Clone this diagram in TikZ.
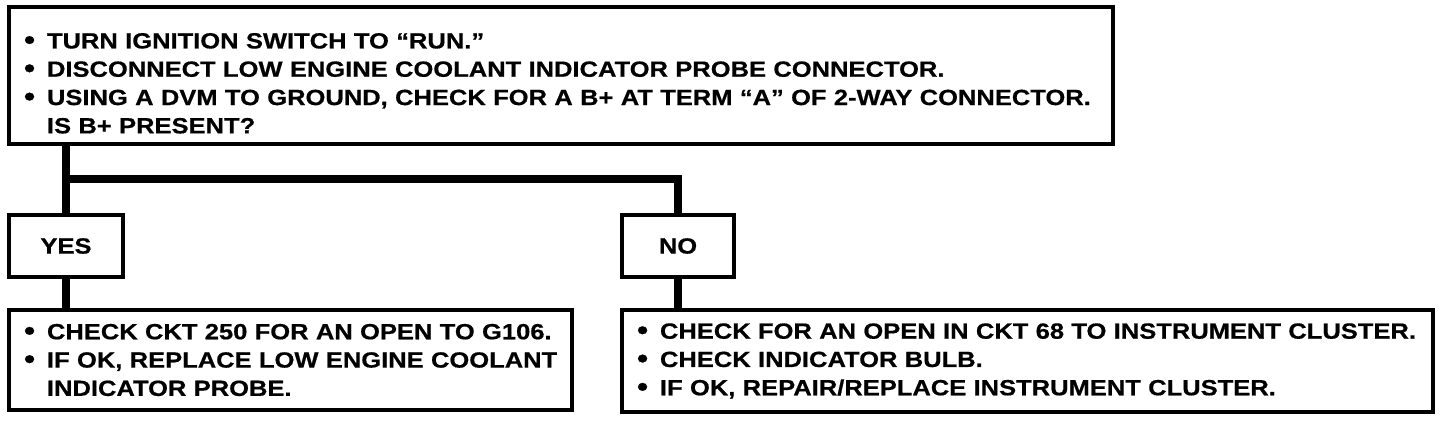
\documentclass[tikz,border=0pt]{standalone}
\usepackage{fontspec}
\setmainfont{Liberation Sans}[BoldFeatures={FakeStretch=1.16,FakeBold=0.6}]
\usetikzlibrary{positioning}
\newcommand{\bul}[1]{\mbox{\makebox[23pt][l]{\raisebox{-0.03em}{\scalebox{1.25}{\textbullet}}}#1}}
\newcommand{\ind}[1]{\mbox{\hspace*{23pt}#1}}

\begin{document}
\begin{tikzpicture}[x=1pt,y=-1pt,
  every node/.style={draw,line width=4.5pt,outer sep=0pt,anchor=north west,inner xsep=15pt,inner ysep=0pt,font=\fontsize{22}{28.3}\selectfont\bfseries},
  box/.style={align=left},
  ans/.style={align=center,minimum width=114pt,minimum height=62pt},
  wire/.style={line width=8pt}]
\useasboundingbox (0,0) rectangle (1456,426);
\node[box,text width=1074pt,minimum height=137pt] (q) at (9,7)
  {\bul{\rule{0pt}{31pt}TURN IGNITION SWITCH TO “RUN.”}\\
   \bul{DISCONNECT LOW ENGINE COOLANT INDICATOR PROBE CONNECTOR.}\\
   \bul{USING A DVM TO GROUND, CHECK FOR A B+ AT TERM “A” OF 2-WAY CONNECTOR.}\\
   \ind{IS B+ PRESENT?}};
\node[ans] (yes) at (9,215) {YES};
\node[ans,minimum width=112pt] (no) at (622,215) {NO};
\node[box,text width=533pt,minimum height=100pt] (fixa) at (9,310)
  {\bul{CHECK CKT 250 FOR AN OPEN TO G106.}\\
   \bul{IF OK, REPLACE LOW ENGINE COOLANT}\\
   \ind{INDICATOR PROBE.}};
\node[box,text width=781pt,minimum height=102pt] (fixb) at (622,310)
  {\bul{CHECK FOR AN OPEN IN CKT 68 TO INSTRUMENT CLUSTER.}\\
   \bul{CHECK INDICATOR BULB.}\\
   \bul{IF OK, REPAIR/REPLACE INSTRUMENT CLUSTER.}};
\coordinate (split) at (66,179);
\draw[wire] (q.south -| yes.north) -- (yes.north);
\draw[wire] (split) -| (no.north);
\foreach \a/\b in {yes/fixa,no/fixb} \draw[wire] (\a.south) -- (\a.south |- \b.north);
\end{tikzpicture}
\end{document}
